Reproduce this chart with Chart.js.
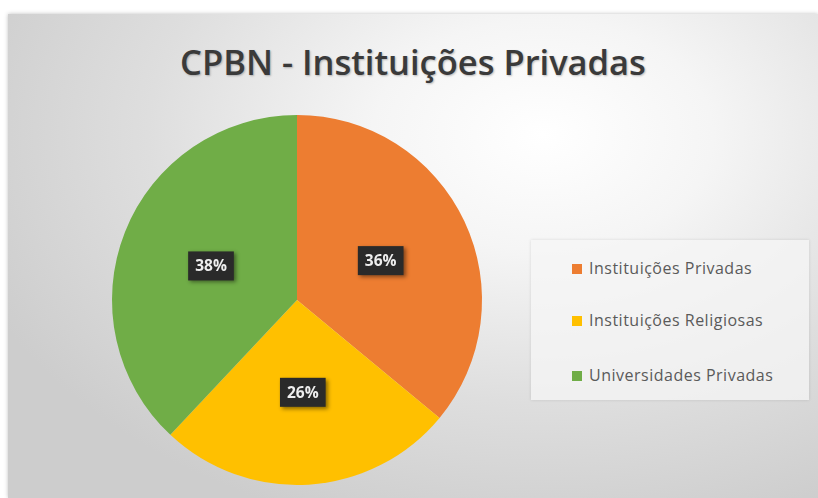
<!DOCTYPE html>
<html>
<head>
<meta charset="utf-8">
<script src="https://cdn.jsdelivr.net/npm/chart.js@4.4.1/dist/chart.umd.min.js"></script>
<style>
  html, body { margin: 0; padding: 0; background: #ffffff; }
  #wrap { position: relative; width: 818px; height: 498px; overflow: hidden; background: #ffffff; }
  #bg { position: absolute; left: 8px; top: 14px; width: 810px; height: 484px;
        background: radial-gradient(ellipse 75% 85% at 66% 25%, #ffffff 0%, #f5f5f5 28%, #dedede 65%, #cdcdcd 100%);
        box-shadow: 0 0 4px rgba(0,0,0,0.25); }
  #title { position: absolute; left: 8px; width: 810px; top: 38px; text-align: center;
           font-family: "Open Sans", sans-serif; font-weight: 600; font-size: 34.5px; color: #3a3a3a;
           text-shadow: 1px 1px 2px rgba(0,0,0,0.25); white-space: nowrap; letter-spacing: 0px; }
  #legend { position: absolute; left: 531px; top: 240px; width: 278px; height: 160px;
            background: rgba(245,245,245,0.75); box-shadow: 0 0 3px rgba(0,0,0,0.12); }
  .item { position: absolute; left: 41px; font-family: "Open Sans", sans-serif; font-size: 16px; color: #5a5a5a;
          white-space: nowrap; height: 20px; line-height: 20px; letter-spacing: 0.5px; }
  .item span.sw { display: inline-block; width: 10px; height: 10px; margin-right: 7px; vertical-align: 0px; }
  canvas { position: absolute; left: 0; top: 0; }
</style>
</head>
<body>
<div id="wrap">
  <div id="bg"></div>
  <div id="title"></div>
  <div id="legend"></div>
  <canvas id="c" width="818" height="498"></canvas>
</div>
<script>
const chartTitle = "CPBN - Instituições Privadas";
const categories = ["Instituições Privadas", "Instituições Religiosas", "Universidades Privadas"];
const values = [36, 26, 38];
const sliceColors = ["#ED7D31", "#FFC000", "#70AD47"];

document.getElementById('title').textContent = chartTitle;

const legend = document.getElementById('legend');
const legendTops = [18, 70, 125];
categories.forEach((c, i) => {
  const d = document.createElement('div');
  d.className = 'item';
  d.style.top = legendTops[i] + 'px';
  const sw = document.createElement('span');
  sw.className = 'sw';
  sw.style.background = sliceColors[i];
  d.appendChild(sw);
  d.appendChild(document.createTextNode(c));
  legend.appendChild(d);
});

const labelPlugin = {
  id: 'boxLabels',
  afterDatasetsDraw(chart) {
    const ctx = chart.ctx;
    const meta = chart.getDatasetMeta(0);
    const data = chart.data.datasets[0].data;
    const total = data.reduce((a, b) => a + b, 0);
    ctx.save();
    ctx.font = 'bold 15.5px "Open Sans", sans-serif';
    ctx.textAlign = 'center';
    ctx.textBaseline = 'middle';
    meta.data.forEach((arc, i) => {
      const p = arc.getCenterPoint();
      const txt = Math.round(data[i] / total * 100) + '%';
      const w = ctx.measureText(txt).width + 14;
      const h = 29;
      ctx.save();
      ctx.shadowColor = 'rgba(0,0,0,0.45)';
      ctx.shadowBlur = 4;
      ctx.shadowOffsetX = 2;
      ctx.shadowOffsetY = 2;
      ctx.fillStyle = '#2a2a2a';
      ctx.fillRect(p.x - w / 2, p.y - h / 2, w, h);
      ctx.restore();
      ctx.fillStyle = '#eeeeee';
      ctx.fillText(txt, p.x, p.y + 1);
    });
    ctx.restore();
  }
};

new Chart(document.getElementById('c'), {
  type: 'pie',
  data: {
    labels: categories,
    datasets: [{
      data: values,
      backgroundColor: sliceColors,
      borderWidth: 0
    }]
  },
  options: {
    responsive: false,
    animation: false,
    layout: { padding: { left: 112, right: 336, top: 115, bottom: 13 } },
    plugins: {
      legend: { display: false },
      title: { display: false },
      tooltip: { enabled: false }
    }
  },
  plugins: [labelPlugin]
});
</script>
</body>
</html>
